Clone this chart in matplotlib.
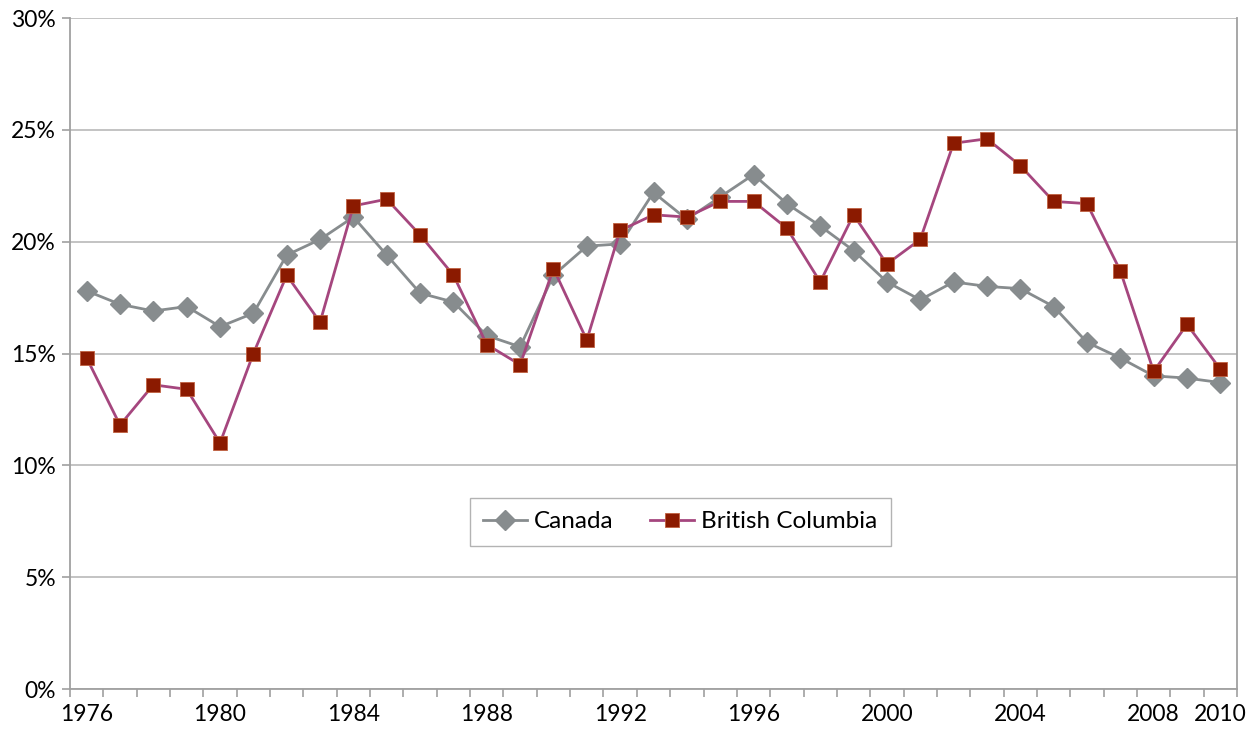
import matplotlib
matplotlib.use("Agg")
import matplotlib.pyplot as plt
from matplotlib.ticker import FixedLocator, FuncFormatter

years = list(range(1976, 2011))
canada = [17.8, 17.2, 16.9, 17.1, 16.2, 16.8, 19.4, 20.1, 21.1, 19.4, 17.7, 17.3,
          15.8, 15.3, 18.5, 19.8, 19.9, 22.2, 21.0, 22.0, 23.0, 21.7, 20.7, 19.6,
          18.2, 17.4, 18.2, 18.0, 17.9, 17.1, 15.5, 14.8, 14.0, 13.9, 13.7]
bc = [14.8, 11.8, 13.6, 13.4, 11.0, 15.0, 18.5, 16.4, 21.6, 21.9, 20.3, 18.5,
      15.4, 14.5, 18.8, 15.6, 20.5, 21.2, 21.1, 21.8, 21.8, 20.6, 18.2, 21.2,
      19.0, 20.1, 24.4, 24.6, 23.4, 21.8, 21.7, 18.7, 14.2, 16.3, 14.3]
label_years = [1976, 1980, 1984, 1988, 1992, 1996, 2000, 2004, 2008, 2010]

plt.rcParams['font.family'] = ['Lato', 'DejaVu Sans']

fig = plt.figure(figsize=(12.6, 7.31), dpi=100)
ax = fig.add_axes([70/1260, 1 - 689/731, (1237-70)/1260, (689-18)/731])

ax.plot(years, canada, color='#878C8E', lw=2.0, marker='D', ms=10,
        markerfacecolor='#878C8E', markeredgecolor='#878C8E', label='Canada', zorder=3)
ax.plot(years, bc, color='#A5467E', lw=2.0, marker='s', ms=10,
        markerfacecolor='#8B1A00', markeredgecolor='#C06040', markeredgewidth=0.6,
        label='British Columbia', zorder=4)

ax.set_xlim(years[0] - 0.5, years[-1] + 0.5)
ax.set_ylim(0, 30)

ax.xaxis.set_major_locator(FixedLocator(label_years))
ax.xaxis.set_minor_locator(FixedLocator([y - 0.5 for y in years] + [years[-1] + 0.5]))
ax.tick_params(axis='x', which='major', length=0, labelsize=16.5, pad=11, colors='#000000')
ax.tick_params(axis='x', which='minor', length=6, width=1.2, color='#A0A0A0', direction='out')

ax.set_yticks(range(0, 31, 5))
ax.yaxis.set_major_formatter(FuncFormatter(lambda v, p: f"{int(v)}%"))
ax.tick_params(axis='y', which='major', length=6, width=1.2, color='#A0A0A0',
               labelsize=16.5, pad=4)
ax.grid(axis='y', color='#BEBEBE', lw=1.3)
ax.set_axisbelow(True)

for s in ['left', 'bottom', 'right']:
    ax.spines[s].set_color('#A0A0A0')
    ax.spines[s].set_linewidth(1.3)
ax.spines['top'].set_visible(False)

leg = ax.legend(loc='center', bbox_to_anchor=(0.523, 0.249), ncol=2, fontsize=17.5,
                frameon=True, fancybox=False, edgecolor='#A0A0A0',
                handlelength=1.8, columnspacing=1.5, borderpad=0.55, handletextpad=0.3,
                borderaxespad=0)
leg.get_frame().set_linewidth(1.0)

fig.savefig('out.png', dpi=100)
